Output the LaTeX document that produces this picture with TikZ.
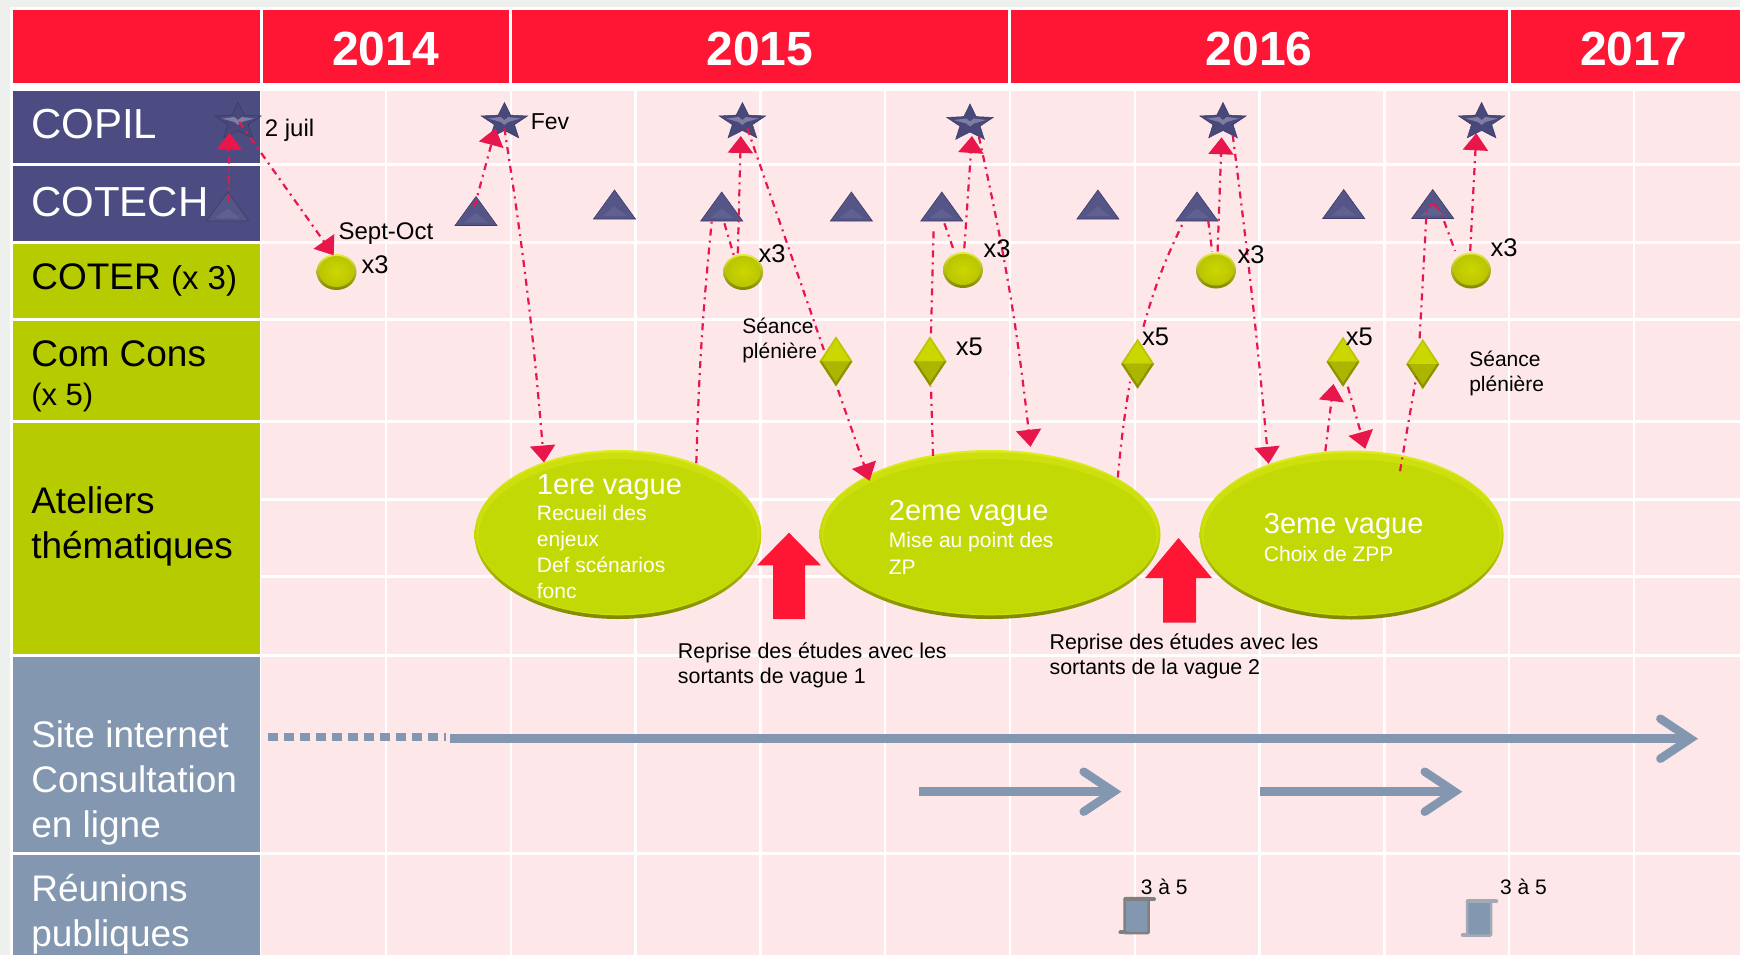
\documentclass[tikz,border=0pt]{standalone}
\usepackage{fontspec}
\setmainfont{Liberation Sans}
\usetikzlibrary{shapes.geometric,arrows.meta,calc}
\definecolor{hred}{HTML}{FF1635}
\definecolor{indigo}{HTML}{4C4C82}
\definecolor{olive}{HTML}{B7CC00}
\definecolor{slate}{HTML}{8497B0}
\definecolor{rose}{HTML}{FDE7E9}
\definecolor{conred}{HTML}{E8174B}
\definecolor{pagegray}{HTML}{EEF0EE}
\definecolor{ballhi}{HTML}{E4EC40}
\definecolor{balllo}{HTML}{7F8700}
\definecolor{ballmid}{HTML}{CCD600}
\definecolor{ballout}{HTML}{BBC500}
\definecolor{elltop}{HTML}{DCEC20}
\definecolor{ellbot}{HTML}{7F8800}
\definecolor{ella}{HTML}{CDE00E}
\definecolor{ellb}{HTML}{C3D905}
\tikzset{
  sz/.code args={#1/#2}{\tikzset{font=\fontsize{#1}{#2}\selectfont}},
  txt/.style={anchor=base west,inner sep=0pt,align=left,yshift=-1.5pt,xshift=-.3pt},
  head/.style={anchor=base,inner sep=0pt,text=white,font=\fontsize{48}{48}\selectfont\bfseries},
  conn/.style={conred,line width=2.2pt,dash pattern=on 7pt off 5pt on 2pt off 5pt},
  conna/.style={conn,-{Triangle[length=17pt,width=25pt]}},
  blue/.style={slate,line width=8.5pt,-{Straight Barb[line cap=round,length=30pt,width=40pt]}},
}
\newcommand\mkstar[3]{%
  \node[inner sep=0pt,minimum width=47pt,minimum height=35pt] (#1) at (#2,#3) {};
  \fill[indigo!95!black,draw=indigo!75!black,line width=.5pt,shift={(#1.center)},xscale=1.25]
    (-90:19.5) -- (-54:8.5) -- (-18:19.5) -- (18:8.5) -- (54:19.5) -- (90:8.5)
    -- (126:19.5) -- (162:8.5) -- (198:19.5) -- (234:8.5) -- cycle;
  \fill[indigo!72!white,shift={(#1.center)},xscale=1.25]
    (-13,-3.5) -- (-3,-5) -- (0,-2) -- (3,-5) -- (13,-3.5) -- (3,0) -- (0,3) -- (-3,0) -- cycle;
}
\newcommand\mktri[3]{%
  \node[inner sep=0pt,minimum width=42pt,minimum height=29pt] (#1) at (#2,#3) {};
  \fill[indigo!95!white,draw=indigo!80!black,line width=.6pt,shift={(#1.center)}]
    (0,-14.5) -- (21,14.5) -- (-21,14.5) -- cycle;
  \fill[indigo!88!white,shift={(#1.center)}]
    (0,2) -- (12,11.5) -- (-12,11.5) -- cycle;
}
\newcommand\mkball[3]{%
  \node[ellipse,inner sep=0pt,minimum width=40pt,minimum height=36pt,
        top color=ballhi,bottom color=balllo] (#1) at (#2,#3) {};
  \shade[inner color=ballmid,outer color=ballout]
    ($(#1.center)+(0,-.5)$) ellipse [x radius=17.5pt,y radius=15.5pt];
}
\newcommand\mkdia[3]{%
  \node[inner sep=0pt,minimum width=33pt,minimum height=50pt] (#1) at (#2,#3) {};
  \fill[ballout,shift={(#1.center)}] (0,-25) -- (16.5,0) -- (0,25) -- (-16.5,0) -- cycle;
  \fill[ballmid,shift={(#1.center)}] (0,-22) -- (14,0) -- (-14,0) -- cycle;
  \fill[ballout!92!black,shift={(#1.center)}] (0,21) -- (14,0) -- (-14,0) -- cycle;
  \fill[balllo!80!ballout,shift={(#1.center)}] (0,25) -- (16.5,0) -- (14,0) -- (0,21) -- (-14,0) -- (-16.5,0) -- cycle;
}
\newcommand\mkell[5]{%
  \node[ellipse,inner sep=0pt,minimum width=#4pt,minimum height=#5pt,
        top color=elltop,bottom color=ellbot,middle color=ellb] (#1) at (#2,#3) {};
  \fill[ella] ($(#1.center)+(0,-.7)$) ellipse [x radius=#4pt/2-2pt,y radius=#5pt/2-3pt];
  \fill[ellb] ($(#1.center)+(0,2)$) ellipse [x radius=#4pt/2-4pt,y radius=#5pt/2-7pt];
}
\newcommand\mkdoc[4]{%
  \node[rectangle,rounded corners=1pt,inner sep=0pt,minimum width=24pt,minimum height=35pt,
        fill=slate,draw=#4,line width=2.5pt] (#1) at (#2,#3) {};
  \draw[#4,line width=4pt,line cap=round] ($(#1.north west)+(2,2)$) -- ($(#1.north east)+(4,2)$);
  \draw[#4,line width=4pt,line cap=round] ($(#1.south west)+(-3,-2)$) -- ($(#1.south west)+(2,-2)$);
}
\begin{document}
\begin{tikzpicture}[x=1pt,y=-1pt]
\useasboundingbox (0,0) rectangle (1740,955);
% page
\fill[pagegray] (0,0) rectangle (1740,955);
\fill[white] (9.5,7) rectangle (1740,955);
% header
\fill[hred] (13,10) rectangle (1740,83);
\foreach \x in {261,510.5,1009.5,1509} \fill[white] (\x-1.5,10) rectangle (\x+1.5,83);
\node[head] (y14) at (385.6,66) {2014};
\node[head] (y15) at (760,66) {2015};
\node[head] (y16) at (1259,66) {2016};
\node[head] (y17) at (1633.5,66) {2017};
% pink field and grid
\fill[rose] (261,90.7) rectangle (1740,955);
\foreach \x in {386,511,635.6,760.4,885,1010,1135,1259.6,1384.4,1509,1634}
  \fill[white] (\x-1.4,90.7) rectangle (\x+1.4,955);
\foreach \y in {164.3,242.3,319.5,421.3,499.3,576.7,655.7,853.5}
  \fill[white] (261,\y-1.5) rectangle (1740,\y+1.5);
% left cells
\fill[indigo] (13,90.7) rectangle (260,163);
\fill[indigo] (13,165.7) rectangle (260,241);
\fill[olive] (13,243.7) rectangle (260,317.7);
\fill[olive] (13,321) rectangle (260,420);
\fill[olive] (13,422.6) rectangle (260,654);
\fill[slate] (13,656.7) rectangle (260,852.3);
\fill[slate] (13,855) rectangle (260,955);
\node[txt,text=white,sz=42/42] (lcopil) at (31.4,137.3) {COPIL};
\node[txt,text=white,sz=42/42] (lcotech) at (31.4,215) {COTECH};
\node[txt,text=black,sz=37/37] (lcoter) at (31.4,288.3) {COTER {\fontsize{33}{33}\selectfont (x 3)}};
\node[txt,text=black,sz=37/39,yshift=1pt] (lcom) at (31.4,405) {Com Cons\\{\fontsize{31}{39}\selectfont (x 5)}};
\node[txt,text=black,sz=37/44.5,yshift=1.5pt] (lat) at (31.4,558) {Ateliers\\thématiques};
\node[txt,text=white,sz=37/45,yshift=-.7pt] (lsite) at (31.4,835) {Site internet\\Consultation\\en ligne};
\node[txt,text=white,sz=37/44.7,yshift=-.7pt] (lreu) at (31.4,944) {Réunions\\publiques};
% markers
\mkstar{s1}{238}{122}\mkstar{s2}{504.4}{122}\mkstar{s3}{742.4}{122}
\mkstar{s4}{970}{123.5}\mkstar{s5}{1223}{122}\mkstar{s6}{1481.6}{122}
\mktri{t1}{227.7}{206.5}\mktri{t2}{476}{211}\mktri{t3}{614.5}{204.5}
\mktri{t4}{721.7}{206.5}\mktri{t5}{851.4}{206.5}\mktri{t6}{941.8}{206.5}
\mktri{t7}{1097.9}{204.5}\mktri{t8}{1197}{206.5}\mktri{t9}{1343.7}{204}\mktri{t10}{1432.7}{204}
\mkball{c1}{336.5}{272}\mkball{c2}{743.2}{272}\mkball{c3}{963}{270}
\mkball{c4}{1216}{270.5}\mkball{c5}{1471}{270.5}
\mkdia{d1}{836}{361.3}\mkdia{d2}{930}{361.3}\mkdia{d3}{1137.6}{363.7}
\mkdia{d4}{1343}{361.7}\mkdia{d5}{1422.8}{364}
\mkell{E1}{618}{534.5}{287}{169}
\mkell{E2}{990}{534.5}{341}{169}
\mkell{E3}{1351.6}{535}{304}{169}
% block arrows
\fill[hred] (789,532.7) -- (821,565.3) -- (805,565.3) -- (805,619) -- (773,619) -- (773,565.3) -- (757,565.3) -- cycle;
\fill[hred] (1178.5,538) -- (1212,578) -- (1196,578) -- (1196,622.5) -- (1163,622.5) -- (1163,578) -- (1145,578) -- cycle;
% connectors
\draw[conna] ($(t1)+(.8,-4.8)$) -- ($(s1)+(-8.4,10.7)$);
\draw[conna] ($(s1)+(1.2,0)$) -- ($(c1)+(-2.8,-16.7)$);
\draw[conna] ($(t2)+(-1.5,-4.3)$) -- ($(s2)+(-8.8,6.3)$);
\draw[conna] ($(s2)+(0,6.3)$) to[bend left=2] ($(E1)+(-74,-72)$);
\draw[conn] ($(E1)+(78.3,-71.4)$) to[bend left=2] ($(t4)+(-10,15.2)$);
\draw[conn] ($(t4)+(2.7,16.8)$) -- ($(c2)+(-8.5,-13.7)$);
\draw[conna] ($(c2)+(-5.4,-18.7)$) -- ($(s3)+(-1.6,14)$);
\draw[conn] ($(s3)+(4.9,6.3)$) -- ($(d1)+(-12.1,-11.3)$);
\draw[conna] ($(d1)+(2,28.7)$) -- ($(E2)+(-120.4,-53.7)$);
\draw[conn] ($(E2)+(-57,-78.7)$) -- ($(d2)+(1,25.4)$);
\draw[conn] ($(d2)+(1,-28)$) -- ($(t6)+(-8.1,20.2)$);
\draw[conn] ($(t6)+(2.6,16.8)$) -- ($(c3)+(-9,-19)$);
\draw[conna] ($(c3)+(1.3,-21.7)$) -- ($(s4)+(2,12.5)$);
\draw[conna] ($(s4)+(8.9,13.2)$) to[bend left=3] ($(E2)+(40.5,-87.7)$);
\draw[conn] ($(E2)+(127.8,-57)$) to[bend left=2] ($(d3)+(-7.6,18)$);
\draw[conn] ($(d3)+(5.8,-37)$) to[bend left=5] ($(t8)+(-13.4,15.2)$);
\draw[conn] ($(t8)+(11.2,14.2)$) -- ($(c4)+(-3.8,-18.8)$);
\draw[conna] ($(c4)+(1.6,-18.8)$) -- ($(s5)+(-1.4,15.3)$);
\draw[conna] ($(s5)+(9.7,13)$) to[bend left=1] ($(E3)+(-83,-71.2)$);
\draw[conna] ($(E3)+(-26.3,-83.8)$) -- ($(d4)+(-9.5,22.3)$);
\draw[conna] ($(d4)+(4.8,25)$) -- ($(E3)+(13.7,-86.2)$);
\draw[conn] ($(E3)+(48.4,-63.8)$) -- ($(d5)+(-6.5,12.7)$);
\draw[conn] ($(d5)+(-3.2,-25.7)$) -- ($(t10)+(-6.2,9)$) .. controls ($(t10)+(-5,1)$) and ($(t10)+(-1,0)$) .. ($(t10)+(2,1)$);
\draw[conn] ($(t10)+(2,1)$) .. controls ($(t10)+(6,3)$) and ($(t10)+(8,7)$) .. ($(c5)+(-16,-19.5)$);
\draw[conna] ($(c5)+(-.8,-19.5)$) -- ($(s6)+(-5.3,11.3)$);
% small labels
\node[txt,sz=24/24] (n1) at (265,135) {2 juil};
\node[txt,sz=23/23] (n2) at (531,128.3) {Fev};
\node[txt,sz=24/24] (n3) at (338.7,238.3) {Sept-Oct};
\node[txt,sz=25.5/25.5] (n4) at (361.7,271.7) {x3};
\node[txt,sz=25.5/25.5] (n5) at (758.8,261) {x3};
\node[txt,sz=25.5/25.5] (n6) at (983.8,255.7) {x3};
\node[txt,sz=25.5/25.5] (n7) at (1237.6,262.3) {x3};
\node[txt,sz=25.5/25.5] (n8) at (1490.6,255) {x3};
\node[txt,sz=25.5/25.5] (n9) at (956,354.3) {x5};
\node[txt,sz=25.5/25.5] (n10) at (1142.3,344.3) {x5};
\node[txt,sz=25.5/25.5] (n11) at (1346,344.3) {x5};
\node[txt,sz=21/25,yshift=1pt] (n12) at (742.4,358.3) {Séance\\plénière};
\node[txt,sz=21/25,yshift=1pt] (n13) at (1469.4,390.7) {Séance\\plénière};
\node[txt,sz=21.4/25] (n14) at (678,682.3) {Reprise des études avec les\\sortants de vague 1};
\node[txt,sz=21.4/25] (n15) at (1049.7,673.3) {Reprise des études avec les\\sortants de la vague 2};
\node[txt,sz=21/21] (n16) at (1141,892.7) {3 à 5};
\node[txt,sz=21/21] (n17) at (1500.3,892.7) {3 à 5};
% text in the ellipses
\node[txt,text=white,sz=21/26] (e1t) at (537,597.3) {{\fontsize{29}{26}\selectfont 1ere vague}\\Recueil des\\enjeux\\Def scénarios\\fonc};
\node[txt,text=white,sz=21/27] (e2t) at (889,572.7) {{\fontsize{29}{27}\selectfont 2eme vague}\\Mise au point des\\ZP};
\node[txt,text=white,sz=21/27.5,yshift=1.5pt] (e3t) at (1264,561) {{\fontsize{29}{27.5}\selectfont 3eme vague}\\Choix de ZPP};
% blue arrows
\coordinate (w0) at (268,736.7); \coordinate (w1) at (446,736.7);
\coordinate (w2) at (450,738.7); \coordinate (w3) at (1698,738.7);
\coordinate (w4) at (919,791.7); \coordinate (w5) at (1121.3,791.7);
\coordinate (w6) at (1260,791.7); \coordinate (w7) at (1462.4,791.7);
\draw[slate,line width=8pt,dash pattern=on 9.5pt off 6.5pt] (w0) -- (w1);
\draw[blue] (w2) -- (w3);
\draw[blue] (w4) -- (w5);
\draw[blue] (w6) -- (w7);
% documents
\mkdoc{p1}{1136.7}{915.7}{black!50}
\mkdoc{p2}{1479}{918.2}{black!25!slate!60!white}
\end{tikzpicture}
\end{document}
